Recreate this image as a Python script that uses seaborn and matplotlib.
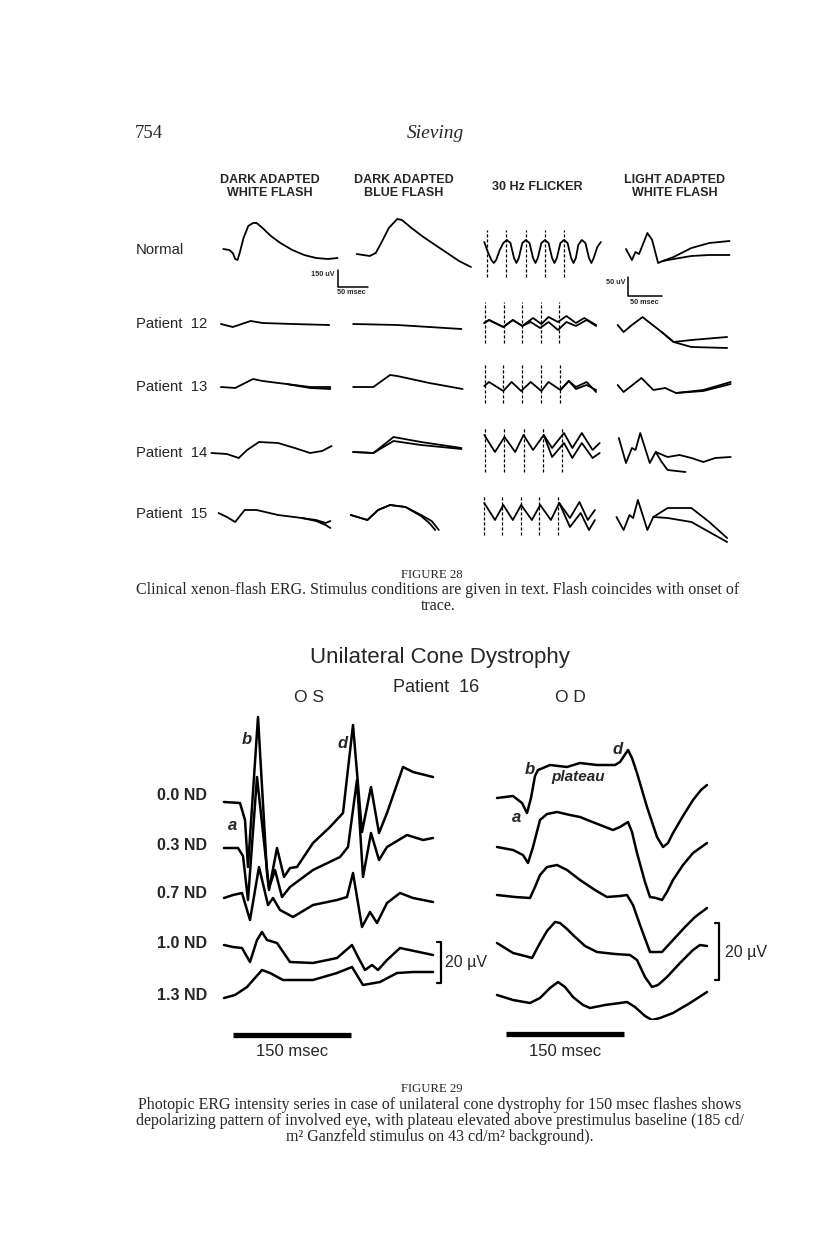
import numpy as np
import matplotlib.pyplot as plt
import seaborn as sns

sns.set_style("white")
plt.rcParams["font.family"] = ["Liberation Sans", "DejaVu Sans"]
SERIF = ["Liberation Serif", "DejaVu Serif"]

# ---------------- Figure 28 : clinical xenon-flash ERG ----------------
rows28 = ["Normal", "Patient  12", "Patient  13", "Patient  14", "Patient  15"]
cols28 = [["DARK ADAPTED", "WHITE FLASH"], ["DARK ADAPTED", "BLUE FLASH"],
          ["30 Hz FLICKER"], ["LIGHT ADAPTED", "WHITE FLASH"]]

# traces as (time, amplitude): time in scan units from column start,
# amplitude in scan units (up = positive). doubled records have two traces.
dark_white = [
    [([12, 17, 20, 22, 24, 26, 29, 33, 37, 40, 45, 52, 60, 70, 80, 90, 100, 108],
      [1, 0, -3, -9, -10, -2, 12, 24, 27, 27, 22, 14, 7, 0, -5, -8, -9, -8])],
    [([10, 20, 35, 45, 70, 101], [0, -3, 3, 1, 0, -1])],
    [([10, 22, 37, 45, 65, 85, 102], [0, -1, 8, 6, 3, 0, 0]),
     ([65, 85, 102], [3, -1, -2])],
    [([2, 15, 25, 32, 42, 58, 72, 85, 95, 103], [0, -1, -5, 3, 11, 10, 5, 0, 2, 7])],
    [([8, 15, 22, 30, 40, 58, 78, 90, 98, 102], [1, -3, -8, 4, 4, -1, -4, -6, -9, -7]),
     ([78, 90, 98, 102], [-4, -7, -11, -14])],
]
dark_blue = [
    [([9, 20, 25, 30, 36, 43, 47, 55, 65, 75, 85, 95, 105],
      [-4, -6, -3, 8, 22, 31, 30, 22, 13, 5, -3, -11, -17])],
    [([6, 43, 70, 97], [0, -1, -3, -5])],
    [([6, 23, 37, 43, 70, 98], [0, 0, 12, 11, 4, -2])],
    [([6, 23, 40, 63, 97], [1, 0, 16, 11, 5]),
     ([6, 23, 40, 63, 97], [1, 0, 12, 8, 4])],
    [([4, 18, 27, 37, 50, 63, 70, 75], [-1, -6, 4, 9, 7, -2, -9, -16]),
     ([4, 18, 27, 37, 50, 63, 72, 78], [-1, -6, 4, 9, 7, -1, -7, -16])],
]
flicker = [
    [([4, 7, 10, 12, 14, 17, 20, 23, 26, 29, 31, 33, 36, 39, 42, 45, 47, 49, 52, 55,
       58, 61, 63, 65, 68, 71, 74, 77, 79, 81, 83, 86, 89, 92, 94, 96, 99, 102],
      [8, -2, -10, -13, -10, 0, 7, 10, 7, -8, -13, -8, 7, 10, 7, -8, -13, -8, 7, 10,
       7, -8, -13, -8, 7, 10, 7, -8, -13, -8, 5, 10, 7, -8, -13, -8, 3, 8])],
    [([4, 8, 20, 28, 36, 45, 52, 58, 66, 73, 81, 88, 98],
      [1, 4, -3, 4, -2, 6, 0, 7, 2, 8, 1, 6, -1]),
     ([4, 8, 20, 28, 36, 43, 51, 58, 66, 73, 81, 90, 98],
      [1, 4, -3, 4, -2, 2, -4, 2, -6, 2, -2, 4, -2])],
    [([4, 8, 20, 27, 35, 43, 52, 58, 68, 75, 81, 90, 98],
      [1, 5, -4, 5, -4, 5, -4, 5, -3, 6, 0, 5, -5]),
     ([68, 75, 81, 90, 98], [-3, 6, -2, 2, -3])],
    [([4, 13, 21, 30, 37, 45, 54, 61, 71, 78, 86, 95, 101],
      [18, 1, 16, 1, 18, 3, 18, 5, 20, 5, 20, 3, 10]),
     ([54, 61, 71, 78, 86, 95, 101], [18, -4, 10, -5, 10, -5, 0])],
    [([4, 13, 20, 28, 35, 44, 51, 60, 67, 76, 84, 91, 97],
      [11, -6, 9, -6, 9, -6, 9, -6, 11, -4, 12, -6, 4]),
     ([67, 76, 85, 92, 97], [11, -13, 1, -16, -6])],
]
light_white = [
    [([13, 18, 21, 24, 31, 35, 40, 44, 53, 68, 83, 100],
      [1, -10, -2, -4, 17, 10, -13, -11, -7, 2, 7, 9]),
     ([44, 53, 68, 83, 100], [-11, -9, -6, -5, -5])],
    [([6, 11, 18, 27, 30, 43, 53, 68, 98], [-1, -8, -1, 7, 4, -8, -18, -16, -13]),
     ([43, 53, 68, 98], [-8, -18, -23, -24])],
    [([6, 11, 26, 36, 46, 55, 78, 101], [2, -5, 9, -3, -1, -6, -3, 5]),
     ([55, 78, 101], [-6, -4, 3])],
    [([7, 13, 18, 21, 25, 33, 38, 48, 58, 68, 78, 88, 101],
      [15, -10, 5, 3, 20, -10, 1, -4, -2, -5, -9, -5, -4]),
     ([38, 43, 48, 63], [1, -9, -17, -19])],
    [([5, 11, 16, 19, 23, 31, 36, 48, 68, 83, 98],
      [-3, -16, -1, -4, 14, -16, -3, 6, 6, -8, -24]),
     ([36, 48, 68, 83, 98], [-3, -4, -8, -18, -28])],
]
# flash onsets (dashed markers) in the flicker column and their extent
flash_t = [[6, 22, 39, 55, 71], [5, 21, 36, 52, 67], [5, 20, 36, 52, 68],
           [5, 21, 37, 53, 69], [4, 19, 35, 50, 66]]
flash_top = [20, 22, 22, 26, 19]
flash_bottom = [-27, -19, -16, -19, -21]

# ---------------- Figure 29 : unilateral cone dystrophy ----------------
nd_labels = ["0.0 ND", "0.3 ND", "0.7 ND", "1.0 ND", "1.3 ND"]
os_traces = [
    ([4, 20, 25, 28, 38, 47, 49, 57, 64, 70, 77, 93, 110, 123, 133, 142, 151, 159, 167, 183, 193, 213],
     [0, -1, -18, -65, 85, -71, -88, -46, -75, -66, -65, -41, -25, -11, 77, -30, 15, -31, -11, 35, 30, 25]),
    ([4, 18, 23, 28, 37, 49, 55, 62, 70, 93, 120, 128, 137, 143, 151, 159, 167, 187, 203, 213],
     [0, 0, -8, -52, 71, -40, -22, -49, -39, -22, -9, 1, 68, -29, 15, -12, 1, 13, 8, 10]),
    ([4, 13, 22, 30, 39, 48, 53, 60, 73, 93, 117, 127, 133, 142, 150, 157, 167, 180, 193, 213],
     [0, 3, 5, -22, 31, -7, 0, -12, -19, -7, -2, 1, 25, -29, -14, -25, -5, 5, 0, -4]),
    ([4, 13, 22, 30, 37, 42, 47, 57, 70, 93, 117, 132, 138, 145, 152, 158, 167, 180, 213],
     [0, -2, -3, -17, 5, 13, 5, 2, -17, -18, -13, 0, -12, -25, -20, -25, -15, -3, -10]),
    ([4, 15, 27, 42, 50, 63, 93, 117, 132, 143, 160, 177, 193, 213],
     [0, 3, 11, 28, 25, 18, 18, 25, 31, 13, 16, 25, 26, 26]),
]
od_traces = [
    ([2, 18, 27, 32, 36, 40, 43, 48, 55, 72, 85, 102, 120, 125, 133, 137, 142, 152, 162, 168,
      173, 178, 188, 198, 206, 212],
     [0, 2, -5, -15, 0, 22, 28, 30, 33, 31, 35, 33, 33, 36, 48, 40, 25, -9, -39, -49,
      -45, -35, -18, -2, 8, 13]),
    ([2, 18, 28, 33, 38, 45, 52, 62, 75, 85, 100, 118, 125, 133, 137, 142, 150, 155, 161, 167,
      172, 178, 188, 198, 212],
     [0, -3, -8, -16, 0, 27, 33, 35, 32, 30, 24, 17, 20, 25, 15, -6, -35, -50, -51, -53,
      -45, -33, -18, -6, 4]),
    ([2, 20, 35, 40, 45, 52, 62, 72, 85, 100, 112, 125, 132, 138, 145, 155, 162, 167, 178, 190,
      200, 212],
     [0, -2, -3, 8, 20, 28, 30, 25, 15, 5, -2, -1, 0, -10, -30, -57, -57, -57, -45, -32,
      -22, -13]),
    ([2, 10, 18, 30, 37, 45, 52, 60, 65, 72, 78, 90, 102, 120, 135, 142, 150, 157, 163, 172,
      185, 198, 205, 212],
     [0, -5, -10, -13, -15, 0, 12, 21, 20, 14, 8, -3, -9, -11, -12, -17, -34, -44, -42, -34,
      -20, -7, -2, -3]),
    ([2, 18, 35, 45, 55, 63, 70, 78, 88, 95, 110, 125, 132, 140, 150, 157, 165, 178, 195, 212],
     [0, -5, -8, -3, 7, 13, 8, -2, -10, -13, -10, -8, -7, -12, -21, -25, -23, -18, -8, 3]),
]

caption28 = ["Clinical xenon-flash ERG. Stimulus conditions are given in text. Flash coincides with onset of",
             "trace."]
caption29 = ["Photopic ERG intensity series in case of unilateral cone dystrophy for 150 msec flashes shows",
             "depolarizing pattern of involved eye, with plateau elevated above prestimulus baseline (185 cd/",
             "m\u00b2 Ganzfeld stimulus on 43 cd/m\u00b2 background)."]

# ---------------- layout (page pixels) ----------------
W, H = 816, 1246
fig = plt.figure(figsize=(W / 100, H / 100), dpi=100)
page = fig.add_axes([0, 0, 1, 1])
page.set_xlim(0, W)
page.set_ylim(H, 0)
page.axis("off")


def panel(left, top, width, height, xmax):
    ax = fig.add_axes([left / W, 1 - (top + height) / H, width / W, height / H])
    ax.set_xlim(0, xmax)
    ax.set_ylim(-(top + height), -top)
    ax.axis("off")
    return ax


def draw(ax, t, a, base, lw):
    sns.lineplot(x=t, y=np.asarray(a) - base, ax=ax, sort=False, estimator=None,
                 color="black", lw=lw, legend=False)


# running header
page.text(135, 133, "754", family=SERIF, fontsize=13.5, va="center")
page.text(435, 133, "Sieving", family=SERIF, fontsize=14, style="italic", ha="center", va="center")

# figure 28
row_base28 = [250, 324, 387, 453, 514]
col_left28 = [209, 346, 479.5, 610.5]
col_head_x = [270, 404, 537, 675]
unit = 1.19  # page px per scan time unit
for name, y in zip(rows28, row_base28):
    page.text(136, y, name, fontsize=10.7, va="center")
for j, head in enumerate(cols28):
    ys = [180, 193] if len(head) == 2 else [187]
    for line, y in zip(head, ys):
        page.text(col_head_x[j], y, line, fontsize=9, fontweight="bold", ha="center", va="center")

for j, column in enumerate([dark_white, dark_blue, flicker, light_white]):
    ax = panel(col_left28[j], 200, 110 * unit, 360, 110)
    for i, cell in enumerate(column):
        for t, a in cell:
            draw(ax, t, a, row_base28[i], 1.3)
    if column is flicker:
        for i, ts in enumerate(flash_t):
            ax.vlines(ts, flash_bottom[i] - row_base28[i], flash_top[i] - row_base28[i],
                      color="black", lw=0.9, linestyles=(0, (2.5, 1.5)))

# calibration marks, figure 28
page.plot([337.5, 337.5, 368], [270, 287, 287], color="black", lw=1.1)
page.text(335, 274, "150 uV", fontsize=5.2, fontweight="bold", ha="right", va="center")
page.text(337, 293, "50 msec", fontsize=5.2, fontweight="bold", ha="left", va="center")
page.plot([628, 628, 662], [277, 296, 296], color="black", lw=1.1)
page.text(625, 282, "50 uV", fontsize=5.2, fontweight="bold", ha="right", va="center")
page.text(630, 302, "50 msec", fontsize=5.2, fontweight="bold", ha="left", va="center")

page.text(432, 575, "FIGURE 28", family=SERIF, fontsize=9.2, ha="center", va="center")
for k, line in enumerate(caption28):
    page.text(438, 590 + 16 * k, line, family=SERIF, fontsize=11.5, ha="center", va="center")

# figure 29
page.text(440, 657, "Unilateral Cone Dystrophy", fontsize=16, ha="center", va="center")
page.text(436, 688, "Patient  16", fontsize=13, ha="center", va="center")
page.text(309, 697, "O S", fontsize=12.5, ha="center", va="center")
page.text(570, 697, "O D", fontsize=12.5, ha="center", va="center")
for name, y in zip(nd_labels, [795, 845, 893, 944, 995]):
    page.text(157, y, name, fontsize=11.5, fontweight="bold", va="center")

ax_os = panel(220, 690, 220, 330, 220)
for (t, a), base in zip(os_traces, [802, 848, 898, 945, 998]):
    draw(ax_os, t, a, base, 1.8)
ax_od = panel(495, 690, 220, 330, 220)
for (t, a), base in zip(od_traces, [798, 847, 895, 943, 995]):
    draw(ax_od, t, a, base, 1.8)

wave = dict(fontsize=12, style="italic", fontweight="bold", ha="center", va="center")
page.text(247, 740, "b", **wave)
page.text(233, 826, "a", **wave)
page.text(343, 743, "d", **wave)
page.text(530, 770, "b", **wave)
page.text(517, 817, "a", **wave)
page.text(618, 750, "d", **wave)
page.text(578, 777, "plateau", **dict(wave, fontsize=11))

# 20 uV brackets and 150 msec bars
for x, y0, y1 in [(441, 942, 983), (719, 923, 980)]:
    page.plot([x - 4, x, x, x - 4], [y0, y0, y1, y1], color="black", lw=1.6)
page.text(445, 963, "20 \u00b5V", fontsize=11.5, va="center")
page.text(725, 952, "20 \u00b5V", fontsize=11.5, va="center")
page.plot([233, 351], [1035, 1035], color="black", lw=3.8, solid_capstyle="butt")
page.plot([506, 624], [1034, 1034], color="black", lw=3.8, solid_capstyle="butt")
page.text(292, 1052, "150 msec", fontsize=12, ha="center", va="center")
page.text(565, 1052, "150 msec", fontsize=12, ha="center", va="center")

page.text(432, 1089, "FIGURE 29", family=SERIF, fontsize=9.2, ha="center", va="center")
for k, line in enumerate(caption29):
    page.text(440, 1105 + 16 * k, line, family=SERIF, fontsize=11.5, ha="center", va="center")

fig.savefig("out.png", dpi=100)
